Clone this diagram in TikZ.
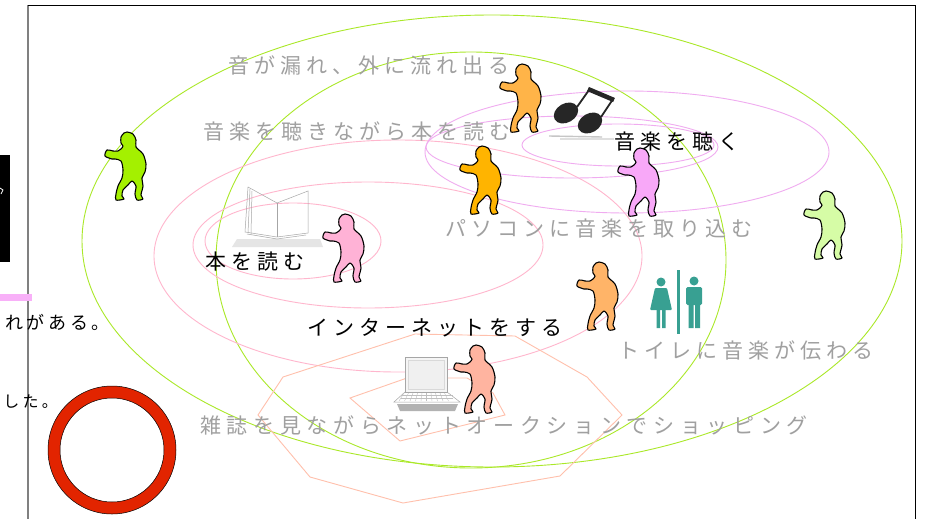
\documentclass[tikz,border=0pt]{standalone}
\usepackage{fontspec}
\usepackage{tikz}
\usetikzlibrary{positioning, calc}
\newfontfamily\jpfont{Noto Sans CJK JP}[LetterSpace=24]
\newfontfamily\jpsidefont{Noto Sans CJK JP}[LetterSpace=20]
\definecolor{zonegreen}{RGB}{170, 232, 40}
\definecolor{zonepink}{RGB}{255, 182, 205}
\definecolor{zoneorchid}{RGB}{240, 172, 240}
\definecolor{zonesalmon}{RGB}{255, 192, 172}
\definecolor{scenegray}{RGB}{160, 160, 160}
\definecolor{ringred}{RGB}{226, 36, 0}
\definecolor{signteal}{RGB}{56, 160, 146}
\definecolor{markpink}{RGB}{248, 176, 248}
\definecolor{dancelime}{RGB}{164, 240, 0}
\definecolor{danceorange}{RGB}{255, 180, 72}
\definecolor{danceamber}{RGB}{255, 180, 0}
\definecolor{danceorchid}{RGB}{248, 168, 248}
\definecolor{dancemint}{RGB}{214, 252, 166}
\definecolor{dancepink}{RGB}{255, 178, 214}
\definecolor{dancepeach}{RGB}{255, 180, 104}
\definecolor{dancesalmon}{RGB}{255, 180, 160}

\tikzset{
  dancer/.pic={
    \path[draw=black, line width=1.1pt, line join=round, pic actions]
      plot[smooth cycle, tension=0.5] coordinates {
        (1,-34) (7,-32) (10,-26) (10,-19) (17,-12) (20,-2) (19,6) (16,12)
        (17,20) (15,29) (17,33) (11,34) (9,28) (10,20) (6,15) (2,19)
        (-3,24) (-4,30) (-2,33) (-10,34) (-10,28) (-8,20) (-4,12) (-3,4)
        (-5,-5) (-11,-7) (-14,-7) (-21,-10) (-19,-16) (-13,-15) (-8,-15)
        (-5,-17) (-3,-20) (-5,-23) (-5,-29) (-2,-33)};
  }
}

\begin{document}
\begin{tikzpicture}[x=1pt, y=-1pt,
  zone/.style={line width=0.9pt},
  greenzone/.style={zone, draw=zonegreen},
  pinkzone/.style={zone, draw=zonepink},
  orchidzone/.style={zone, draw=zoneorchid},
  salmonzone/.style={zone, draw=zonesalmon, line join=miter},
  scene/.style={anchor=west, inner sep=0pt, text=scenegray,
                font=\jpfont\fontsize{21}{25}\selectfont},
  widescene/.style={scene,
                font=\jpfont\addfontfeature{LetterSpace=27}\fontsize{21}{25}\selectfont},
  act/.style={scene, text=black},
  sidetext/.style={anchor=east, inner sep=0pt, text=black,
                   font=\jpsidefont\fontsize{18}{22}\selectfont},
  icon/.style={draw=gray!70, line width=0.5pt},
]
  \useasboundingbox (0,0) rectangle (941,519);
  \fill[white] (0,0) rectangle (941,519);

  % slide frame and what shows of the slide beside it
  \draw[gray, line width=1.5pt] (28,5) -- (28,519);
  \draw[black, line width=0.8pt] (28,5) -- (915,5) -- (915,519);
  \fill[black] (0,155) rectangle (10,262);
  \draw[white, line width=0.8pt] (0,188) -- (3,190) -- (1,194);
  \fill[markpink] (0,294) rectangle (32,301);
  \node[sidetext] (aru) at (110,322) {れがある。};
  \node[sidetext, font=\jpsidefont\fontsize{16}{20}\selectfont] (shita) at (58,402) {した。};
  \path[fill=ringred, draw=black, line width=0.5pt, even odd rule]
    (112,450) circle [radius=64] (112,450) circle [radius=52];

  % zones
  \draw[greenzone] (492,241) ellipse [x radius=410, y radius=226];
  \draw[greenzone] (471,260) ellipse [x radius=255, y radius=208];
  \draw[pinkzone] (398,256) ellipse [x radius=244, y radius=116];
  \draw[pinkzone] (368,245) ellipse [x radius=175, y radius=63];
  \draw[pinkzone] (293,241) ellipse [x radius=88, y radius=38];
  \draw[orchidzone] (627,152) ellipse [x radius=202, y radius=61];
  \draw[orchidzone] (572,147) ellipse [x radius=146, y radius=31];
  \draw[orchidzone] (618,145) ellipse [x radius=96, y radius=21];
  \draw[salmonzone] (283,377) -- (415,334) -- (515,336) -- (587,377) -- (622,415)
    -- (560,476) -- (403,503) -- (310,477) -- (258,415) -- cycle;
  \draw[salmonzone] (350,398) -- (407,378) -- (467,378) -- (493,393) -- (505,415)
    -- (400,441) -- cycle;

  % open book
  \fill[gray!20] (237,239) -- (320,239) -- (323,247) -- (232,247) -- cycle;
  \draw[icon] (248,187) -- (277,203) -- (308,191) -- (308,233) -- (277,237)
    -- (245,232) -- cycle;
  \draw[icon] (277,203) -- (277,237);
  \draw[icon] (250,189) -- (248,233) (252,191) -- (251,234);
  \draw[icon] (247,234) -- (277,239) -- (306,235);

  % music notes
  \draw[gray!45, line width=1.4pt] (549,136) -- (602,137);
  \draw[gray!25, line width=1.4pt] (560,139) -- (614,139);
  \fill[black!85, rotate around={30:(566,113)}] (566,113) ellipse [x radius=13, y radius=9.5];
  \fill[black!85, rotate around={30:(590,123)}] (590,123) ellipse [x radius=13, y radius=9.5];
  \draw[black!85, line width=1.8pt] (577,107) -- (589,90) (601,117) -- (613,99);
  \draw[black!85, line width=4.5pt] (588,89) -- (614,100);

  % laptop
  \fill[gray!60] (397,404) -- (458,404) -- (455,411) -- (400,411) -- cycle;
  \draw[icon, fill=white] (394,402) -- (405,392) -- (447,392) -- (460,402) -- cycle;
  \foreach \k in {395,398} \draw[gray!50, line width=0.4pt] (401,\k) -- (453,\k);
  \foreach \k in {0,...,9} \draw[gray!50, line width=0.4pt]
    ({404+4.5*\k},393) -- ({399+5.5*\k},401);
  \draw[icon, fill=gray!8] (405,357) rectangle (447,392);
  \draw[gray!30, fill=gray!12] (408,360) rectangle (444,389);

  % restroom sign
  \fill[signteal] (677,270) rectangle (679.5,334);
  \fill[signteal] (661,282) circle [radius=4.5] (694,281) circle [radius=4.5];
  \fill[signteal, rounded corners=1pt] (655,288) -- (667,288) -- (672,310) -- (650,310) -- cycle;
  \fill[signteal] (656.5,309) rectangle (660,328) (662,309) rectangle (665.5,328);
  \fill[signteal, rounded corners=1.5pt] (686,287) rectangle (702,305);
  \fill[signteal] (688.5,302) rectangle (693.5,328) (695,302) rectangle (700,328);

  % scene captions
  \node[scene] (leak) at (228,65) {音が漏れ、外に流れ出る};
  \node[scene] (listenread) at (203,131) {音楽を聴きながら本を読む};
  \node[scene] (pcmusic) at (445,229) {パソコンに音楽を取り込む};
  \node[scene] (toilet) at (618,350) {トイレに音楽が伝わる};
  \node[widescene] (shopping) at (200,425) {雑誌を見ながらネットオークションでショッピング};
  \node[act] (listen) at (614,142) {音楽を聴く};
  \node[act] (read) at (205,262) {本を読む};
  \node[act] (net) at (307,328) {インターネットをする};

  % dancers
  \pic[fill=dancelime] at (126,166) {dancer};
  \pic[fill=danceorange] at (521,98) {dancer};
  \pic[fill=danceamber] at (481,180) {dancer};
  \pic[fill=danceorchid] at (639,182) {dancer};
  \pic[fill=dancemint] at (825,225) {dancer};
  \pic[fill=dancepink] at (344,248) {dancer};
  \pic[fill=dancepeach] at (598,296) {dancer};
  \pic[fill=dancesalmon] at (475,379) {dancer};
\end{tikzpicture}
\end{document}
